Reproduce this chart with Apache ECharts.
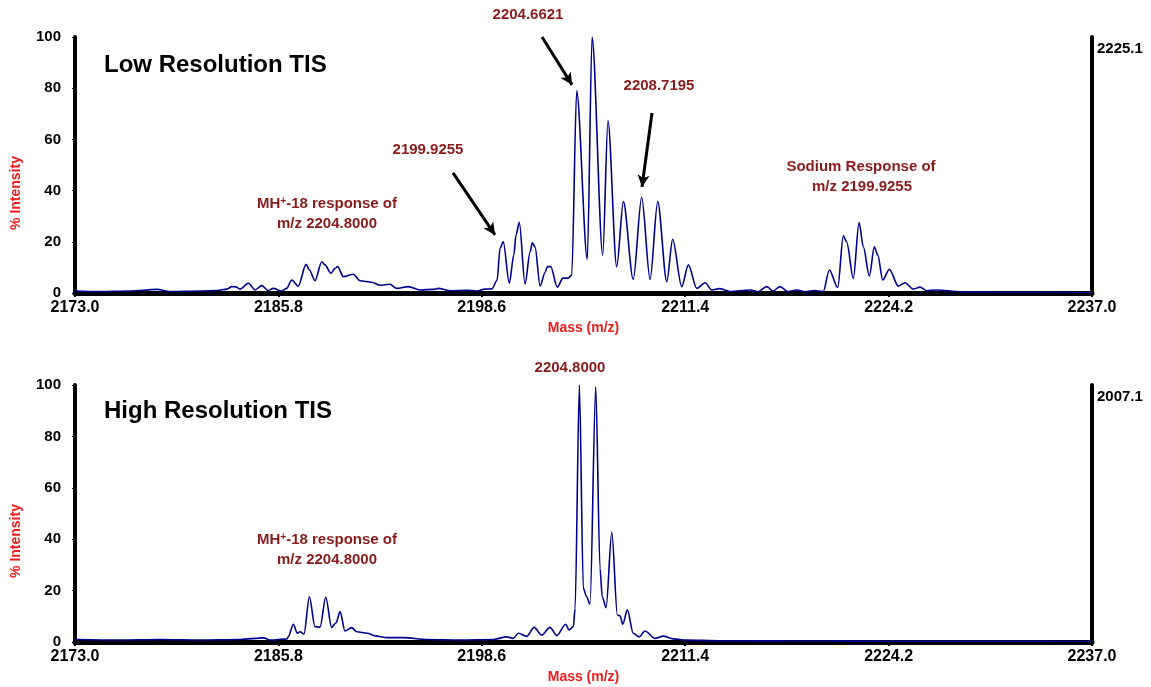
<!DOCTYPE html>
<html>
<head>
<meta charset="utf-8">
<script src="https://cdn.jsdelivr.net/npm/echarts@6/dist/echarts.min.js"></script>
<style>
  html, body { margin: 0; padding: 0; background: #fff; }
  #chart { width: 1151px; height: 687px; }
</style>
</head>
<body>
<div id="chart"></div>
<script>
// low resolution TIS spectrum
const lowResMass = [
  2173.00, 2174.57, 2176.46, 2178.16, 2178.98, 2180.87, 2181.94, 2182.57, 2182.86, 2183.13,
  2183.38, 2183.91, 2184.33, 2184.75, 2185.16, 2185.48, 2186.01, 2186.32, 2186.64, 2187.05,
  2187.54, 2187.75, 2188.10, 2188.53, 2188.73, 2189.11, 2189.36, 2189.53, 2189.88, 2190.51,
  2190.94, 2191.67, 2192.19, 2192.82, 2193.25, 2193.98, 2194.71, 2195.55, 2195.86, 2196.60,
  2197.65, 2198.28, 2198.80, 2199.24, 2199.56, 2199.75, 2199.95, 2200.33, 2200.62, 2200.75,
  2200.96, 2201.32, 2201.64, 2201.78, 2201.95, 2202.27, 2202.58, 2202.73, 2202.94, 2203.35,
  2203.71, 2204.03, 2204.26, 2204.57, 2205.24, 2205.54, 2206.21, 2206.54, 2207.09, 2207.51,
  2208.13, 2208.66, 2209.19, 2209.67, 2210.24, 2210.61, 2211.18, 2211.60, 2212.13, 2212.65,
  2213.07, 2213.55, 2214.22, 2215.48, 2215.98, 2216.53, 2216.93, 2217.37, 2217.87, 2218.42,
  2218.94, 2219.57, 2220.09, 2220.47, 2221.00, 2221.35, 2221.56, 2221.98, 2222.34, 2222.61,
  2222.99, 2223.30, 2223.52, 2223.83, 2224.25, 2224.81, 2225.23, 2225.76, 2226.18, 2226.60,
  2227.23, 2228.70, 2231.21, 2237.00
];
const lowResIntensity = [
  0.8, 0.6, 0.8, 1.4, 0.6, 0.8, 1.0, 1.5, 2.5, 2.4,
  1.5, 3.8, 1.2, 2.9, 1.0, 1.8, 0.8, 1.8, 5.1, 2.7,
  11.2, 9.0, 4.8, 12.2, 11.0, 7.7, 9.6, 10.3, 6.4, 7.3,
  4.8, 4.2, 3.0, 3.4, 1.8, 2.5, 1.2, 1.4, 1.8, 0.9,
  1.1, 0.8, 1.5, 1.6, 5.0, 17.5, 20.0, 3.8, 15.0, 22.6,
  27.6, 3.5, 16.0, 19.6, 18.0, 2.7, 8.0, 10.3, 10.3, 2.3,
  5.8, 5.8, 7.0, 79.0, 13.2, 100.0, 14.8, 67.3, 10.3, 35.7,
  5.3, 37.4, 5.3, 35.7, 4.4, 21.0, 2.5, 11.0, 1.8, 4.0,
  1.2, 1.7, 0.6, 1.2, 0.5, 2.5, 0.8, 2.5, 0.6, 1.2,
  0.5, 1.0, 0.6, 9.0, 2.2, 22.3, 20.0, 5.7, 27.5, 18.0,
  6.6, 18.0, 14.8, 5.1, 9.3, 2.7, 4.0, 1.5, 2.3, 0.9,
  1.2, 0.5, 0.3, 0.2
];

// high resolution TIS spectrum
const highResMass = [
  2173.00, 2175.83, 2178.35, 2180.87, 2183.38, 2184.89, 2185.27, 2186.34, 2186.42, 2186.74,
  2186.99, 2187.16, 2187.41, 2187.75, 2188.10, 2188.42, 2188.78, 2189.15, 2189.43, 2189.68,
  2189.99, 2190.41, 2190.73, 2191.40, 2191.88, 2192.62, 2193.66, 2195.13, 2197.23, 2199.32,
  2200.17, 2200.58, 2200.90, 2201.43, 2201.89, 2202.37, 2202.89, 2203.32, 2203.88, 2204.09,
  2204.36, 2204.47, 2204.74, 2204.99, 2205.20, 2205.41, 2205.77, 2206.04, 2206.18, 2206.42,
  2206.78, 2207.13, 2207.30, 2207.47, 2207.76, 2208.13, 2208.51, 2208.87, 2209.50, 2210.02,
  2210.65, 2211.49, 2213.59, 2218.62, 2224.92, 2231.21, 2237.00
];
const highResIntensity = [
  1.0, 0.8, 1.0, 0.8, 1.0, 1.6, 0.8, 1.2, 2.0, 6.9,
  3.4, 4.0, 3.1, 17.6, 6.0, 5.8, 17.4, 5.7, 7.5, 11.8,
  4.3, 5.6, 4.0, 3.4, 2.4, 1.7, 1.7, 1.0, 0.8, 1.0,
  2.0, 1.4, 3.4, 2.2, 5.7, 2.7, 5.7, 2.5, 6.9, 4.7,
  6.0, 13.0, 100.0, 20.9, 17.6, 14.7, 99.3, 28.7, 17.6, 13.3,
  42.8, 10.5, 10.2, 6.9, 12.5, 3.4, 2.0, 4.3, 1.4, 2.3,
  1.2, 0.8, 0.5, 0.4, 0.3, 0.3, 0.2
];

const massTicks = [2173.0, 2185.8, 2198.6, 2211.4, 2224.2, 2237.0];
const rightLabels = ['2225.1', '2007.1'];
const panelTitles = ['Low Resolution TIS', 'High Resolution TIS'];

// arrows in data coords: [from, to]
const arrows = [
  [[2196.79, 46.9], [2199.43, 22.7]],
  [[2202.39, 100], [2204.28, 81.3]],
  [[2209.31, 70.3], [2208.68, 41.4]]
];

const FONT = "'Liberation Sans', Arial, sans-serif";
const RED = '#ee1c1c';
const DARKRED = '#8b1a1a';
const LINE = '#00008f';

function zip(xs, ys) {
  return xs.map((x, i) => [x, ys[i]]);
}

const chart = echarts.init(document.getElementById('chart'));

const xAxes = [0, 1].map(i => ({
  gridIndex: i,
  type: 'value',
  min: 2173,
  max: 2237,
  axisLine: { lineStyle: { color: '#000', width: 5 } },
  axisTick: { customValues: massTicks, length: 4, lineStyle: { color: '#000', width: 2 } },
  axisLabel: {
    customValues: massTicks,
    formatter: v => v.toFixed(1),
    color: '#000', fontSize: 16, fontWeight: 'bold', fontFamily: FONT, margin: 7
  },
  splitLine: { show: false },
  name: 'Mass (m/z)',
  nameLocation: 'middle',
  nameGap: 28,
  nameTextStyle: { color: RED, fontSize: 14, fontWeight: 'bold', fontFamily: FONT }
}));

const yAxes = [];
[0, 1].forEach(i => {
  yAxes.push({
    gridIndex: i,
    type: 'value',
    position: 'left',
    min: 0,
    max: 100,
    interval: 20,
    axisLine: { show: true, lineStyle: { color: '#000', width: 4 } },
    axisTick: { show: true, length: 3, lineStyle: { color: '#000', width: 1 } },
    axisLabel: { color: '#000', fontSize: 15, fontWeight: 'bold', fontFamily: FONT, margin: 14 },
    splitLine: { show: false }
  });
  yAxes.push({
    gridIndex: i,
    type: 'value',
    position: 'right',
    min: 0,
    max: 100,
    axisLine: { show: true, lineStyle: { color: '#000', width: 4 } },
    axisTick: { show: false },
    axisLabel: {
      customValues: [100],
      formatter: () => rightLabels[i],
      verticalAlign: 'top',
      padding: [4, 0, 0, 0],
      color: '#000', fontSize: 15, fontWeight: 'bold', fontFamily: FONT, margin: 5
    },
    splitLine: { show: false }
  });
});

const annoFont = 'bold 15px ' + FONT;
const richMH = {
  a: { font: annoFont, fill: DARKRED, lineHeight: 20 },
  s: { font: 'bold 10px ' + FONT, fill: DARKRED, lineHeight: 20, verticalAlign: 'top', padding: [2, 0, 0, 0] }
};

function label(x, y, text) {
  return { type: 'text', x: x, y: y, style: { text: text, font: annoFont, fill: DARKRED, textAlign: 'center', textVerticalAlign: 'middle' } };
}

const option = {
  animation: false,
  backgroundColor: '#fff',
  grid: [
    { left: 75, right: 59, top: 37, height: 256, outerBoundsMode: 'none' },
    { left: 75, right: 59, top: 385, height: 257, outerBoundsMode: 'none' }
  ],
  xAxis: xAxes,
  yAxis: yAxes,
  series: [
    {
      type: 'line',
      xAxisIndex: 0,
      yAxisIndex: 0,
      data: zip(lowResMass, lowResIntensity),
      showSymbol: false,
      smooth: 0.3,
      smoothMonotone: 'x',
      lineStyle: { color: LINE, width: 1.6 },
      markLine: {
        silent: true,
        symbol: ['none', 'arrow'],
        symbolSize: [9, 12],
        label: { show: false },
        lineStyle: { color: '#000', width: 3, type: 'solid' },
        data: arrows.map(a => [{ coord: a[0] }, { coord: a[1] }])
      }
    },
    {
      type: 'line',
      xAxisIndex: 1,
      yAxisIndex: 2,
      data: zip(highResMass, highResIntensity),
      showSymbol: false,
      smooth: 0.3,
      smoothMonotone: 'x',
      lineStyle: { color: LINE, width: 1.6 }
    }
  ],
  graphic: [
    { type: 'text', x: 104, y: 65, style: { text: panelTitles[0], font: 'bold 24px ' + FONT, fill: '#000', textVerticalAlign: 'middle' } },
    { type: 'text', x: 104, y: 411, style: { text: panelTitles[1], font: 'bold 24px ' + FONT, fill: '#000', textVerticalAlign: 'middle' } },
    { type: 'text', x: 16, y: 193, rotation: Math.PI / 2, style: { text: '% Intensity', font: 'bold 14px ' + FONT, fill: RED, textAlign: 'center', textVerticalAlign: 'middle' } },
    { type: 'text', x: 16, y: 541, rotation: Math.PI / 2, style: { text: '% Intensity', font: 'bold 14px ' + FONT, fill: RED, textAlign: 'center', textVerticalAlign: 'middle' } },
    label(528, 15, '2204.6621'),
    label(428, 150, '2199.9255'),
    label(659, 86, '2208.7195'),
    label(861, 167, 'Sodium Response of'),
    label(862, 187, 'm/z 2199.9255'),
    label(570, 368, '2204.8000'),
    {
      type: 'text', x: 327, y: 214,
      style: { text: '{a|MH}{s|+}{a|-18 response of}\n{a|m/z 2204.8000}', textAlign: 'center', textVerticalAlign: 'middle', fill: DARKRED, rich: richMH }
    },
    {
      type: 'text', x: 327, y: 550,
      style: { text: '{a|MH}{s|+}{a|-18 response of}\n{a|m/z 2204.8000}', textAlign: 'center', textVerticalAlign: 'middle', fill: DARKRED, rich: richMH }
    }
  ]
};

chart.setOption(option);
window.onresize = chart.resize;
</script>
</body>
</html>
